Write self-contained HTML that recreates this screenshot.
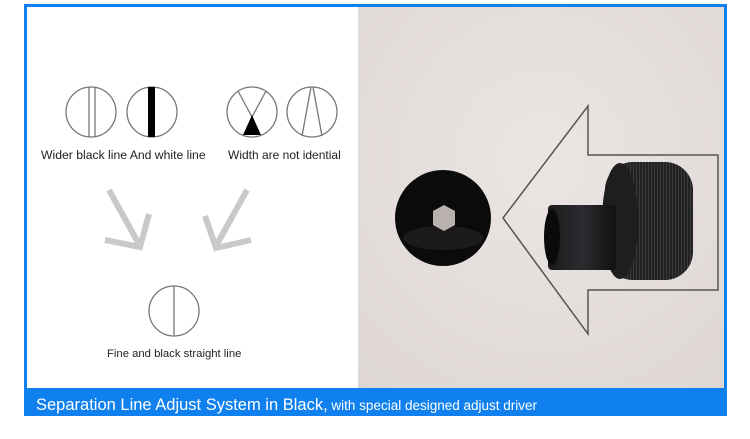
<!DOCTYPE html>
<html><head><meta charset="utf-8"><style>
html,body{margin:0;padding:0;background:#fff;width:750px;height:439px;overflow:hidden}
svg{display:block}
</style></head><body>
<svg width="750" height="439" viewBox="0 0 750 439" xmlns="http://www.w3.org/2000/svg" font-family="Liberation Sans, sans-serif">
<defs>
<radialGradient id="bg" cx="0.5" cy="0.4" r="0.8"><stop offset="0" stop-color="#ebe5e3"/><stop offset="1" stop-color="#ddd6d4"/></radialGradient>
<linearGradient id="knob" x1="0" y1="0" x2="1" y2="0"><stop offset="0" stop-color="#1a1a1c"/><stop offset="0.5" stop-color="#2c2c30"/><stop offset="1" stop-color="#111"/></linearGradient>
<pattern id="ridge" width="3" height="4" patternUnits="userSpaceOnUse"><rect width="3" height="4" fill="#222"/><rect width="1" height="4" fill="#3a3a3e"/></pattern>
</defs>
<rect x="24" y="4" width="703" height="412" fill="#0f80ee"/>
<rect x="27" y="7" width="331" height="381" fill="#fff"/>
<rect x="358" y="7" width="366" height="381" fill="url(#bg)"/>
<g fill="none" stroke="#777" stroke-width="1.3">
<circle cx="91" cy="112" r="25"/><line x1="89" y1="87" x2="89" y2="137"/><line x1="95" y1="87" x2="95" y2="137"/>
<circle cx="152" cy="112" r="25"/>
<circle cx="252" cy="112" r="25"/><line x1="238" y1="91" x2="252" y2="117"/><line x1="266" y1="91" x2="252" y2="117"/>
<circle cx="312" cy="112" r="25"/><line x1="311" y1="87" x2="302" y2="136"/><line x1="313" y1="87" x2="322" y2="136"/>
<circle cx="174" cy="311" r="25"/><line x1="174" y1="286" x2="174" y2="336"/>
</g>
<rect x="148" y="87" width="7" height="50" fill="#000"/>
<polygon points="252,115 243,135 261,135" fill="#000"/>
<text x="41" y="159" font-size="12.2" fill="#222">Wider black line And white line</text>
<text x="228" y="159" font-size="12" fill="#222">Width are not idential</text>
<text x="107" y="357" font-size="11.3" fill="#222">Fine and black straight line</text>
<g stroke="#c9c9c9" stroke-width="6" fill="none" stroke-linejoin="miter">
<line x1="109" y1="190" x2="140" y2="246"/><polyline points="105,240 140,247 149,214"/>
<line x1="247" y1="190" x2="216" y2="246"/><polyline points="251,240 216,248 205,216"/>
</g>
<polygon points="503,218 588,106 588,155 718,155 718,290 588,290 588,334" fill="none" stroke="#555" stroke-width="1.5"/>
<circle cx="443" cy="218" r="48" fill="#0b0b0b"/>
<ellipse cx="443" cy="238" rx="40" ry="12" fill="#1c1a1a"/>
<polygon points="444,205 455,211 455,225 444,231 433,225 433,211" fill="#b8b1ae"/>
<rect x="605" y="162" width="88" height="118" rx="28" fill="url(#ridge)"/>
<ellipse cx="620" cy="221" rx="18" ry="58" fill="#1e1e21"/>
<rect x="548" y="205" width="68" height="65" rx="4" fill="url(#knob)"/>
<ellipse cx="552" cy="237" rx="8" ry="28" fill="#0a0a0a"/>
<text x="36" y="410" fill="#fff"><tspan font-size="16.5">Separation Line Adjust System in Black,</tspan><tspan font-size="13.5"> with special designed adjust driver</tspan></text>
</svg>
</body></html>
